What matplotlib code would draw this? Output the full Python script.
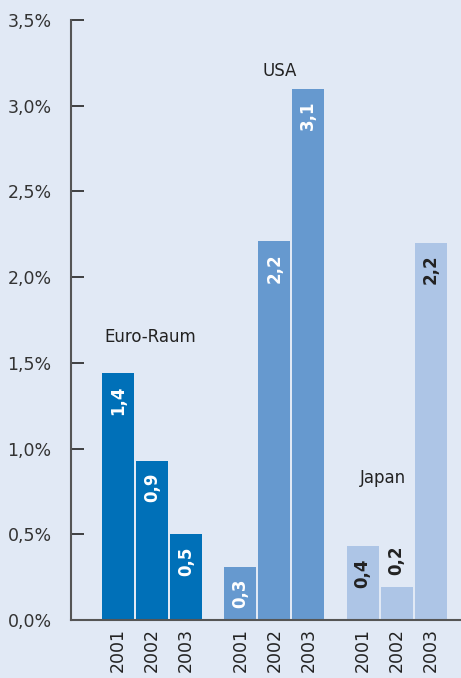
import matplotlib
matplotlib.use("Agg")
import matplotlib.pyplot as plt
from matplotlib.ticker import FuncFormatter

plt.rcParams['font.family'] = ['DejaVu Sans']

regions = ["Euro-Raum", "USA", "Japan"]
years = ["2001", "2002", "2003"]
values = {
    "Euro-Raum": [1.44, 0.93, 0.50],
    "USA": [0.31, 2.21, 3.10],
    "Japan": [0.43, 0.19, 2.20],
}
labels = {
    "Euro-Raum": ["1,4", "0,9", "0,5"],
    "USA": ["0,3", "2,2", "3,1"],
    "Japan": ["0,4", "0,2", "2,2"],
}
colors = {"Euro-Raum": "#0070b8", "USA": "#6699cf", "Japan": "#adc5e6"}
bg = "#e1e9f5"

fig = plt.figure(figsize=(4.61, 6.78), dpi=100, facecolor=bg)
ax = fig.add_axes([71/461, 58/678, 1 - 71/461, 600/678], facecolor=bg)

start = 1.38
group_step = 3.6
width = 0.94
xs_all, xl_all = [], []
for g, reg in enumerate(regions):
    xs = [start + g * group_step + i for i in range(3)]
    ax.bar(xs, values[reg], width=width, color=colors[reg], zorder=2)
    xs_all += xs
    xl_all += years
    for i, (x, v, lab) in enumerate(zip(xs, values[reg], labels[reg])):
        if reg == "Japan" and i != 2:
            if i == 0:
                ax.text(x, v - 0.07, lab, rotation=90, ha='center', va='top',
                        color='#222222', fontsize=12, fontweight='bold')
            else:
                ax.text(x, v + 0.07, lab, rotation=90, ha='center', va='bottom',
                        color='#222222', fontsize=12, fontweight='bold')
        else:
            c = '#222222' if reg == "Japan" else 'white'
            ax.text(x, v - 0.07, lab, rotation=90, ha='center', va='top',
                    color=c, fontsize=12, fontweight='bold')

ax.text(start + 1 - 0.05, 1.65, "Euro-Raum", ha='center', va='center', fontsize=12, color='#222222')
ax.text(start + group_step + 1.15, 3.2, "USA", ha='center', va='center', fontsize=12, color='#222222')
ax.text(start + 2 * group_step + 0.6, 0.83, "Japan", ha='center', va='center', fontsize=12, color='#222222')

ax.set_xlim(0, 390/34)
ax.set_ylim(0, 3.5)
ax.set_yticks([0, 0.5, 1.0, 1.5, 2.0, 2.5, 3.0, 3.5])
ax.yaxis.set_major_formatter(FuncFormatter(lambda v, p: f"{v:.1f}%".replace('.', ',')))
ax.set_xticks(xs_all)
ax.set_xticklabels(xl_all, rotation=90, fontsize=12.5, color='#222222')
ax.tick_params(axis='x', length=0, pad=6)
ax.tick_params(axis='y', direction='in', length=9, width=1.3, color='#333333',
               labelsize=12.5, labelcolor='#333333', pad=14)
for s in ['top', 'right']:
    ax.spines[s].set_visible(False)
for s in ['left', 'bottom']:
    ax.spines[s].set_color('#555555')
    ax.spines[s].set_linewidth(1.5)
ax.spines['left'].set_zorder(3)
ax.spines['bottom'].set_zorder(3)

fig.savefig("out.png", dpi=100, facecolor=bg)
